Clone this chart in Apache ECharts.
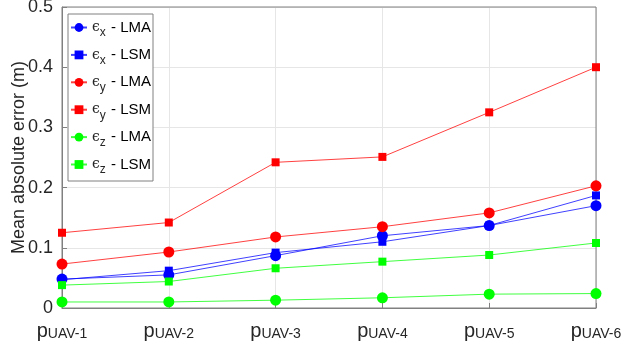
<!DOCTYPE html>
<html><head><meta charset="utf-8">
<script src="https://cdn.jsdelivr.net/npm/echarts@6/dist/echarts.min.js"></script>
<style>html,body{margin:0;padding:0;background:#fff}#c{width:624px;height:345px}</style>
</head><body><div id="c"></div>
<script>
const categories = ['UAV-1','UAV-2','UAV-3','UAV-4','UAV-5','UAV-6'];
const exLMA = [0.048, 0.055, 0.087, 0.120, 0.137, 0.170];
const exLSM = [0.047, 0.062, 0.092, 0.110, 0.137, 0.187];
const eyLMA = [0.073, 0.093, 0.118, 0.135, 0.158, 0.203];
const eyLSM = [0.125, 0.142, 0.242, 0.251, 0.325, 0.400];
const ezLMA = [0.010, 0.010, 0.013, 0.017, 0.023, 0.024];
const ezLSM = [0.038, 0.044, 0.066, 0.077, 0.088, 0.108];
const yTicks = [0, 0.1, 0.2, 0.3, 0.4, 0.5];

const FONT = 'Liberation Sans';
const chart = echarts.init(document.getElementById('c'), null, {renderer:'canvas'});
function mk(name, data, color, symbol, size){
  return {name, type:'line', data, symbol, symbolSize:size, showSymbol:true,
    lineStyle:{color, width:1, opacity:0.75}, itemStyle:{color}, animation:false, z:3};
}
const names = ['x-LMA','x-LSM','y-LMA','y-LSM','z-LMA','z-LSM'];
chart.setOption({
  animation:false,
  grid:{left:62, right:28, top:7, bottom:37, containLabel:false, outerBoundsMode:'none'},
  xAxis:{type:'category', data:categories, boundaryGap:false,
    axisLine:{show:true, lineStyle:{color:'#808080', width:1}},
    axisTick:{show:true, inside:true, length:5, lineStyle:{color:'#808080'}},
    splitLine:{show:true, lineStyle:{color:'#e6e6e6', width:1}},
    axisLabel:{margin:8, formatter:v=>'{p|p}{s|'+v+'}', rich:{
      p:{fontFamily:FONT, fontSize:20, color:'#262626', verticalAlign:'bottom'},
      s:{fontFamily:FONT, fontSize:14, color:'#262626', padding:[11,0,0,0], verticalAlign:'bottom'}}}
  },
  yAxis:{type:'value', min:0, max:0.5, interval:0.1,
    name:'Mean absolute error (m)', nameLocation:'middle', nameGap:34, nameMoveOverlap:false,
    nameTextStyle:{fontFamily:FONT, fontSize:18, color:'#262626'},
    axisLine:{show:true, lineStyle:{color:'#808080', width:1}},
    axisTick:{show:true, inside:true, length:5, lineStyle:{color:'#808080'}},
    splitLine:{show:true, lineStyle:{color:'#e6e6e6', width:1}},
    axisLabel:{fontFamily:FONT, fontSize:18, color:'#262626', margin:9,
      formatter:v=>{const t=yTicks.find(k=>Math.abs(k-v)<1e-9); return t===undefined?'':String(t);}}
  },
  legend:{orient:'vertical', left:68, top:14, width:83,
    backgroundColor:'#fff', borderColor:'#808080', borderWidth:1,
    padding:[2,2,5,2], itemGap:4.4, itemWidth:16, itemHeight:11,
    data:names,
    formatter:n=>{const a=n.split('-'); return '{e|ϵ}{s|'+a[0]+'}{t| - '+a[1]+'}';},
    textStyle:{rich:{
      e:{fontFamily:'DejaVu Serif', fontSize:14, color:'#262626', lineHeight:21},
      s:{fontFamily:FONT, fontSize:12, color:'#262626', padding:[11,1,0,0], lineHeight:21},
      t:{fontFamily:FONT, fontSize:15, color:'#000', lineHeight:21}}}
  },
  series:[
    mk('x-LMA', exLMA, '#0000ff', 'circle', 11),
    mk('x-LSM', exLSM, '#0000ff', 'rect', 8),
    mk('y-LMA', eyLMA, '#ff0000', 'circle', 11),
    mk('y-LSM', eyLSM, '#ff0000', 'rect', 8),
    mk('z-LMA', ezLMA, '#00ff00', 'circle', 11),
    mk('z-LSM', ezLSM, '#00ff00', 'rect', 8)
  ],
  graphic:[{type:'rect', shape:{x:62, y:7, width:534, height:301}, style:{fill:'none', stroke:'#808080', lineWidth:1}, z:1, silent:true}]
});
</script></body></html>
